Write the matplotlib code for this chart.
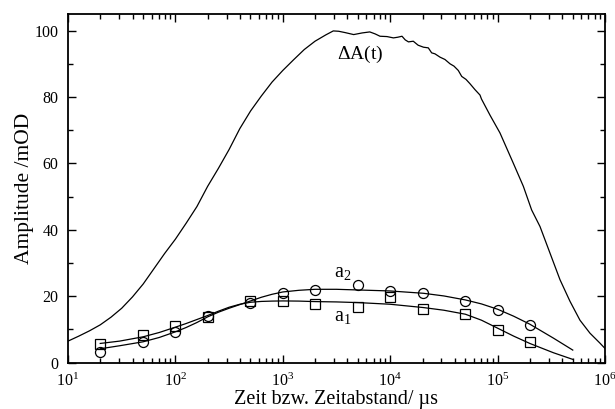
import numpy as np
import matplotlib
matplotlib.use("Agg")
import matplotlib.pyplot as plt
from matplotlib.ticker import LogLocator, LogFormatterMathtext, MultipleLocator, NullFormatter

plt.rcParams['font.family'] = ['Liberation Serif', 'DejaVu Serif']
plt.rcParams['mathtext.fontset'] = 'custom'
plt.rcParams['mathtext.rm'] = 'Liberation Serif'
plt.rcParams['mathtext.it'] = 'Liberation Serif:italic'
plt.rcParams['mathtext.bf'] = 'Liberation Serif:bold'

# Transient absorption amplitude Delta A(t): log10 of time in microseconds, amplitude in mOD
dA_logt = [1.0, 1.1, 1.2, 1.3, 1.4, 1.5, 1.6, 1.7, 1.8, 1.9, 2.0, 2.1, 2.2, 2.3,
           2.4, 2.5, 2.6, 2.7, 2.8, 2.9, 3.0, 3.1, 3.2, 3.3, 3.4, 3.47, 3.52,
           3.58, 3.66, 3.74, 3.81, 3.86, 3.905, 3.97, 4.03, 4.07, 4.11, 4.14,
           4.17, 4.215, 4.26, 4.31, 4.355, 4.386, 4.417, 4.464, 4.51, 4.557,
           4.594, 4.634, 4.666, 4.706, 4.743, 4.79, 4.836, 4.85, 4.93, 5.022,
           5.146, 5.24, 5.317, 5.395, 5.488, 5.581, 5.674, 5.767, 5.86, 5.953, 6.0]
dA_v = [6.5, 8.0, 9.6, 11.4, 13.7, 16.4, 19.8, 23.7, 28.3, 32.9, 37.2, 42.0,
        47.0, 53.1, 58.5, 64.2, 70.5, 75.8, 80.3, 84.5, 88.0, 91.2, 94.3, 96.8,
        98.7, 99.9, 99.8, 99.4, 98.8, 99.3, 99.6, 99.0, 98.3, 98.2, 97.8, 98.0,
        98.3, 97.2, 96.6, 96.8, 95.6, 95.0, 94.8, 93.3, 93.0, 92.0, 91.3, 90.0,
        89.3, 88.0, 86.2, 85.3, 84.0, 82.2, 80.6, 79.4, 74.5, 69.2, 60.1, 53.1,
        46.0, 41.0, 33.0, 25.0, 18.5, 12.8, 8.9, 5.9, 4.3]

# Measured amplitudes of the two components
t_pts = [20, 50, 100, 200, 500, 1000, 2000, 5000, 10000, 20000, 50000, 100000, 200000]
a1_pts = [5.5, 8.3, 11.1, 13.8, 18.6, 18.6, 17.8, 16.9, 19.9, 16.1, 14.7, 9.7, 6.3]
a2_pts = [3.1, 6.1, 9.2, 14.1, 17.9, 21.0, 22.0, 23.4, 21.7, 21.0, 18.6, 16.0, 11.3]

# Fitted curves through the amplitudes (log10 time)
fit_logt = [1.30, 1.48, 1.70, 1.85, 2.0, 2.1, 2.2, 2.3, 2.4, 2.5, 2.6, 2.7, 2.8,
            2.9, 3.0, 3.15, 3.3, 3.5, 3.7, 4.0, 4.31, 4.5, 4.70, 4.85, 5.0,
            5.15, 5.30, 5.41, 5.52, 5.61, 5.70]
a1_fit = [5.8, 6.5, 7.8, 9.1, 10.7, 11.8, 13.0, 14.2, 15.5, 16.7, 17.6, 18.2,
          18.45, 18.55, 18.6, 18.55, 18.4, 18.3, 18.1, 17.6, 16.6, 15.8, 14.6,
          12.8, 10.4, 8.0, 5.8, 4.4, 3.0, 2.0, 1.0]
a2_fit = [4.2, 5.1, 6.3, 7.6, 9.3, 10.6, 12.1, 13.8, 15.2, 16.4, 17.5, 18.6,
          19.7, 20.6, 21.3, 21.8, 22.1, 22.1, 21.9, 21.6, 20.9, 20.1, 18.9,
          17.7, 16.1, 14.0, 11.6, 9.5, 7.4, 5.6, 3.8]

dA_t = 10.0 ** np.array(dA_logt)
fit_t = 10.0 ** np.array(fit_logt)

fig = plt.figure(figsize=(6.15, 4.09), dpi=100)
ax = fig.add_axes([0.1106, 0.1132, 0.8731, 0.8526])

lw = 0.9
ax.plot(dA_t, dA_v, color='black', lw=lw)
ax.plot(fit_t, a1_fit, color='black', lw=lw)
ax.plot(fit_t, a2_fit, color='black', lw=lw)
ax.plot(t_pts, a1_pts, ls='none', marker='s', ms=6.8, mfc='none', mec='black', mew=0.9)
ax.plot(t_pts, a2_pts, ls='none', marker='o', ms=7.2, mfc='none', mec='black', mew=0.9)

ax.set_xscale('log')
ax.set_xlim(10, 1e6)
ax.set_ylim(0, 105)

ax.xaxis.set_major_locator(LogLocator(base=10, numticks=10))
ax.xaxis.set_major_formatter(LogFormatterMathtext())
ax.xaxis.set_minor_locator(LogLocator(base=10, subs=np.arange(2, 10), numticks=20))
ax.xaxis.set_minor_formatter(NullFormatter())
ax.yaxis.set_major_locator(MultipleLocator(20))
ax.yaxis.set_minor_locator(MultipleLocator(10))

ax.tick_params(which='both', direction='in', top=True, right=True, labelsize=11.5, width=1.0)
ax.tick_params(which='major', length=6, pad=7)
ax.tick_params(which='minor', length=3.5)
for s in ax.spines.values():
    s.set_linewidth(1.3)

ax.set_xlabel('Zeit bzw. Zeitabstand/ µs', fontsize=14.5)
ax.xaxis.label.set_va('baseline')
ax.xaxis.set_label_coords(0.5, -0.117, transform=ax.transAxes)
ax.set_ylabel('Amplitude /mOD', fontsize=15.5)
ax.yaxis.set_label_coords(-0.064, 0.5, transform=ax.transAxes)

ax.text(5300, 92.8, r'$\Delta$A(t)', fontsize=14, ha='center', va='center')
ax.text(3000, 25.8, r'$\mathrm{a}_2$', fontsize=14.5, ha='left', va='baseline')
ax.text(3000, 12.7, r'$\mathrm{a}_1$', fontsize=14.5, ha='left', va='baseline')

fig.savefig('out.png', dpi=100)
